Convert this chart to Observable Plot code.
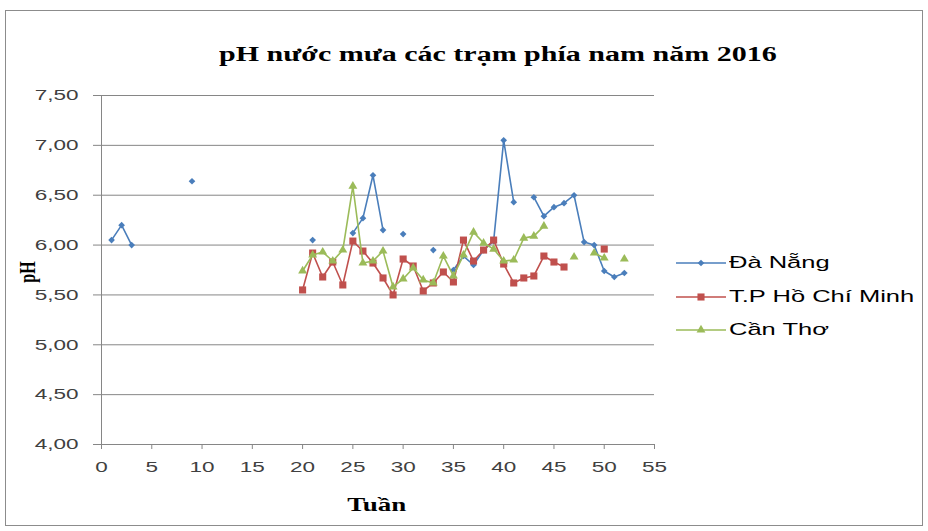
<!DOCTYPE html>
<html>
<head>
<meta charset="utf-8">
<script src="https://cdn.jsdelivr.net/npm/d3@7"></script>
<script src="https://cdn.jsdelivr.net/npm/@observablehq/plot@0.6"></script>
<style>
  html, body { margin: 0; padding: 0; background: #fff; }
  #wrap { position: relative; width: 928px; height: 531px; background: #fff; overflow: hidden; }
  #chart { position: absolute; left: 0; top: 0; }
  #frame { position: absolute; left: 5px; top: 10px; width: 918px; height: 516px; border: 1px solid #8c8c8c; box-sizing: border-box; pointer-events: none; }
  .stretch { display: inline-block; transform: scaleX(1.5); white-space: nowrap; }
  #title { position: absolute; left: 0; top: 44px; width: 996px; text-align: center;
           font-family: "Liberation Serif", "Times New Roman", serif; font-weight: bold; font-size: 20px; line-height: 20px; color: #000; }
  #title .stretch { transform-origin: center; }
  #xlabel { position: absolute; left: 0; top: 496px; width: 754px; text-align: center;
            font-family: "Liberation Serif", serif; font-weight: bold; font-size: 18px; line-height: 18px; color: #000; }
  #xlabel .stretch { transform-origin: center; }
  #ylabel { position: absolute; left: 27px; top: 272px; width: 0; height: 0; }
  #ylabel span { position: absolute; left: 0; top: 0; transform: translate(-50%, -50%) rotate(-90deg) scaleY(1.5);
                 font-family: "Liberation Serif", serif; font-weight: bold; font-size: 16px; line-height: 16px; color: #000; white-space: nowrap; }
  .leg { position: absolute; left: 676px; height: 20px; display: flex; align-items: center; }
  .leg svg { display: block; }
  .leg .lt { margin-left: 3px; font-family: "Liberation Sans", Arial, sans-serif; font-size: 17px; color: #000; transform-origin: left center; }
</style>
</head>
<body>
<div id="wrap">
  <div id="chart"></div>
  <div id="frame"></div>
  <div id="title"><span class="stretch">pH nước mưa các trạm phía nam năm 2016</span></div>
  <div id="xlabel"><span class="stretch">Tuần</span></div>
  <div id="ylabel"><span>pH</span></div>
  <div id="legend"></div>
</div>
<script>
// ---- data ----
const weeks = [1,2,3,4,5,6,7,8,9,10,11,12,13,14,15,16,17,18,19,20,21,22,23,24,25,26,
               27,28,29,30,31,32,33,34,35,36,37,38,39,40,41,42,43,44,45,46,47,48,49,50,51,52];
const daNang = [6.05,6.20,6.00,null,null,null,null,null,6.64,null,null,null,null,null,null,null,null,null,null,null,
                6.05,null,null,null,6.12,6.27,6.70,6.15,null,6.11,null,null,5.95,null,5.75,5.89,5.80,5.95,6.04,7.05,
                6.43,null,6.48,6.29,6.38,6.42,6.50,6.03,6.00,5.74,5.68,5.72];
const hoChiMinh = [null,null,null,null,null,null,null,null,null,null,null,null,null,null,null,null,null,null,null,5.55,
                   5.92,5.68,5.83,5.60,6.04,5.94,5.82,5.67,5.50,5.86,5.79,5.54,5.62,5.73,5.63,6.05,5.84,5.95,6.05,5.81,
                   5.62,5.67,5.69,5.89,5.83,5.78,null,null,null,5.96,null,null];
const canTho = [null,null,null,null,null,null,null,null,null,null,null,null,null,null,null,null,null,null,null,5.74,
                5.90,5.93,5.84,5.95,6.59,5.82,5.84,5.94,5.58,5.66,5.77,5.65,5.62,5.89,5.69,5.90,6.13,6.02,5.96,5.84,
                5.85,6.07,6.09,6.19,null,null,5.88,null,5.92,5.87,null,5.86];
const seriesNames = ["Đà Nẵng", "T.P Hồ Chí Minh", "Cần Thơ"];
const seriesColors = ["#4a7ebb", "#c0504d", "#9bbb59"];
const seriesSymbols = ["diamond2", "square", "triangle"];
const seriesR = [3, 4, 3.3];
const xTicks = [0,5,10,15,20,25,30,35,40,45,50,55];
const yTicks = [4.0,4.5,5.0,5.5,6.0,6.5,7.0,7.5];

const seriesValues = [daNang, hoChiMinh, canTho];
const tables = seriesValues.map(vals => weeks.map((w, i) => ({week: w, ph: vals[i]})));

const fmt = d => d.toFixed(2).replace(".", ",");

const marks = [
  Plot.gridY(yTicks, {stroke: "#868686", strokeOpacity: 1, strokeWidth: 1}),
  Plot.ruleX([0], {stroke: "#868686", strokeWidth: 1}),
  Plot.axisY(yTicks, {tickSize: 8, tickPadding: 15, tickFormat: fmt, stroke: "#868686", label: null}),
  Plot.axisX(xTicks, {tickSize: 5, tickPadding: 12, stroke: "#868686", label: null})
];
tables.forEach((t, k) => {
  const def = t.filter(d => d.ph != null);
  marks.push(Plot.line(t, {x: "week", y: d => d.ph == null ? NaN : d.ph, stroke: seriesColors[k], strokeWidth: 1.6}));
  marks.push(Plot.dot(def, {x: "week", y: "ph", symbol: () => seriesSymbols[k], r: seriesR[k], fill: seriesColors[k], stroke: "none"}));
});

const chart = Plot.plot({
  width: 928, height: 531,
  marginLeft: 101, marginRight: 274, marginTop: 95, marginBottom: 87,
  x: {domain: [0, 55], axis: null},
  y: {domain: [4, 7.5], axis: null},
  symbol: {type: "identity"},
  style: {fontFamily: "'Liberation Sans', Arial, sans-serif", fontSize: "15px", background: "transparent", color: "#404040"},
  marks
});
document.getElementById("chart").appendChild(chart);

// horizontally stretch tick labels like the reference
chart.querySelectorAll("text").forEach(t => {
  const w = t.getComputedTextLength();
  if (w > 0) {
    t.setAttribute("textLength", (w * 1.5).toFixed(2));
    t.setAttribute("lengthAdjust", "spacingAndGlyphs");
  }
  t.setAttribute("fill", "#404040");
});

// legend
const legend = document.getElementById("legend");
const rowY = [263, 297, 330];
seriesNames.forEach((name, k) => {
  const row = document.createElement("div");
  row.className = "leg";
  row.style.top = (rowY[k] - 10) + "px";
  const sym = d3.symbol().type({diamond2: d3.symbolDiamond2, square: d3.symbolSquare, triangle: d3.symbolTriangle}[seriesSymbols[k]])
                 .size(Math.PI * seriesR[k] * seriesR[k]);
  row.innerHTML = `<svg width="50" height="20"><line x1="0" x2="50" y1="10" y2="10" stroke="${seriesColors[k]}" stroke-width="1.6"/>` +
                  `<path transform="translate(25,10)" d="${sym()}" fill="${seriesColors[k]}"/></svg>` +
                  `<span class="lt stretch">${name}</span>`;
  legend.appendChild(row);
});
</script>
</body>
</html>
